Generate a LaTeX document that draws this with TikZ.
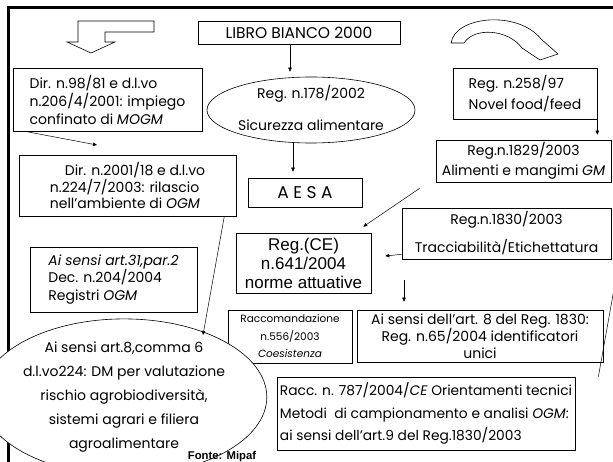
\documentclass[tikz,border=0pt]{standalone}
\usepackage{fontspec}
\setmainfont{Poppins}
\newfontfamily\arialf{Liberation Sans}
\usetikzlibrary{shapes.geometric,arrows.meta,calc}
\begin{document}
\begin{tikzpicture}[x=1pt,y=-1pt,
  box/.style={draw, line width=0.6pt, inner xsep=3pt, inner ysep=0pt, font=\fontsize{14}{17}\selectfont},
  oval/.style={draw, ellipse, line width=0.6pt, inner sep=0pt, align=center},
  arr/.style={draw, line width=0.5pt, -{Triangle[length=4pt,width=3.5pt]}},
  ln/.style={draw, line width=0.5pt},
  shp/.style={draw, line width=0.6pt, line join=miter}
]
\useasboundingbox[fill=white] (0,0) rectangle (613,462);
% frame
\draw[line width=3pt] (8,462) -- (8,8) -- (614,8);
% block arrows
\draw[shp] (78,21) -- (154,21) -- (154,32) -- (105,32) -- (105,42) -- (115,42) -- (91,53) -- (67,42) -- (78,42) -- cycle;
\draw[shp] (451,43) .. controls (455,16) and (518,10) .. (541,39) -- (558,54) -- (540,60) -- (522,48) .. controls (508,29) and (474,27) .. (464,43) -- cycle;
% nodes
\node[box, minimum width=202pt, minimum height=23pt, font=\fontsize{15.5}{18}\selectfont] (libro) at (299,32.5) {LIBRO BIANCO 2000};
\node[oval, minimum width=208pt, minimum height=66pt, font=\fontsize{14}{32}\selectfont] (reg178) at (311,110) {};
\node[align=center, inner sep=0pt, font=\fontsize{14}{32}\selectfont] (reg178t) at (311,107.5) {Reg. n.178/2002\\Sicurezza alimentare};
\node[box, minimum width=144pt, minimum height=51pt, align=left, font=\fontsize{14}{21}\selectfont] (reg258) at (525,93.5) {Reg. n.258/97\\Novel food/feed};
\node[box, minimum width=175pt, minimum height=42pt, align=center, font=\fontsize{14}{20}\selectfont] (reg1829) at (523.5,161) {Reg.n.1829/2003\\Alimenti e mangimi \textit{GM}};
\node[box, minimum width=114pt, minimum height=29pt, font=\fontsize{17}{20}\selectfont] (aesa) at (305,192.5) {A E S A};
\node[box, minimum width=209pt, minimum height=51pt, align=center, font=\fontsize{14}{28}\selectfont] (reg1830) at (506.5,233.5) {Reg.n.1830/2003\\Tracciabilità/Etichettatura};
\node[box, minimum width=135pt, minimum height=60pt, align=center, font=\arialf\fontsize{17}{19}\selectfont] (regce) at (303.5,263) {Reg.(CE)\\n.641/2004\\norme attuative};
\node[box, minimum width=189pt, minimum height=63pt, align=left, font=\fontsize{14}{18}\selectfont] (dir98) at (107.5,99.5) {Dir. n.98/81 e d.l.vo\\n.206/4/2001: impiego\\confinato di \textit{MOGM}};
\node[box, minimum width=217pt, minimum height=61pt, align=left, font=\fontsize{14}{16.5}\selectfont] (dir2001) at (127.5,185.5) {\hspace*{15pt}Dir. n.2001/18 e d.l.vo\\n.224/7/2003: rilascio\\nell’ambiente di \textit{OGM}};
\node[box, minimum width=167pt, minimum height=65pt, align=left, font=\fontsize{14}{17.5}\selectfont] (ai31) at (113.5,279.5) {\textit{Ai sensi art.31,par.2}\\Dec. n.204/2004\\Registri \textit{OGM}};
\node[box, minimum width=124pt, minimum height=53pt, align=center, font=\fontsize{10.5}{17.5}\selectfont] (racc556) at (290,336.5) {Raccomandazione\\n.556/2003\\\textit{Coesistenza}};
\node[box, minimum width=246pt, minimum height=52pt, align=center, font=\fontsize{14}{17}\selectfont] (art8) at (480,336) {Ai sensi dell’art. 8 del Reg. 1830:\\Reg. n.65/2004 identificatori\\unici};
\node[box, minimum width=298pt, minimum height=73pt, align=left, font=\fontsize{13.8}{22.5}\selectfont] (racc787) at (426,413.5) {Racc. n. 787/2004/\textit{CE} Orientamenti tecnici\\Metodi\ \ di campionamento e analisi \textit{OGM}:\\ai sensi dell’art.9 del Reg.1830/2003};
\node[oval, fill=white, minimum width=230pt, minimum height=140pt, font=\fontsize{14}{24}\selectfont] (dm) at (124,397) {Ai sensi art.8,comma 6\\d.l.vo224: DM per valutazione\\rischio agrobiodiversità,\\sistemi agrari e filiera\\agroalimentare};
\node[font=\arialf\bfseries\fontsize{11.3}{13}\selectfont, inner sep=0pt] (fonte) at (222,457) {Fonte: Mipaf};
% free ends
\coordinate (c98) at (97,145);
\coordinate (c2001) at (203,335);
\coordinate (cdown) at (404,280);
% connectors
\draw[arr, shorten >=5pt] ($(libro.south)+(-9,0)$) -- ($(reg178.north)+(-21,0)$);
\draw[arr, shorten >=6pt] ($(reg178.south)+(-18,0)$) -- ($(aesa.north)+(-12,0)$);
\draw[arr] ($(dir98.south west)+(12,0)$) -- (c98);
\draw[arr, shorten >=5pt] (reg258.south east) -- (reg258.south east |- reg1829.north);
\draw[arr] ($(reg1829.south west)+(-16,6)$) -- ($(regce.north east)+(-8,-6)$);
\draw[arr] ($(reg1830.south west)+(0,-5)$) -- ($(regce.east)+(14,-7)$);
\draw[arr, shorten >=8pt] (cdown) -- (art8.north -| cdown);
\draw[ln] ($(reg1830.south east)+(8,0)$) -- ($(racc787.north east)+(23,0)$);
\draw[arr] ($(dir2001.south east)+(-12,0)$) -- (c2001);
\end{tikzpicture}
\end{document}
